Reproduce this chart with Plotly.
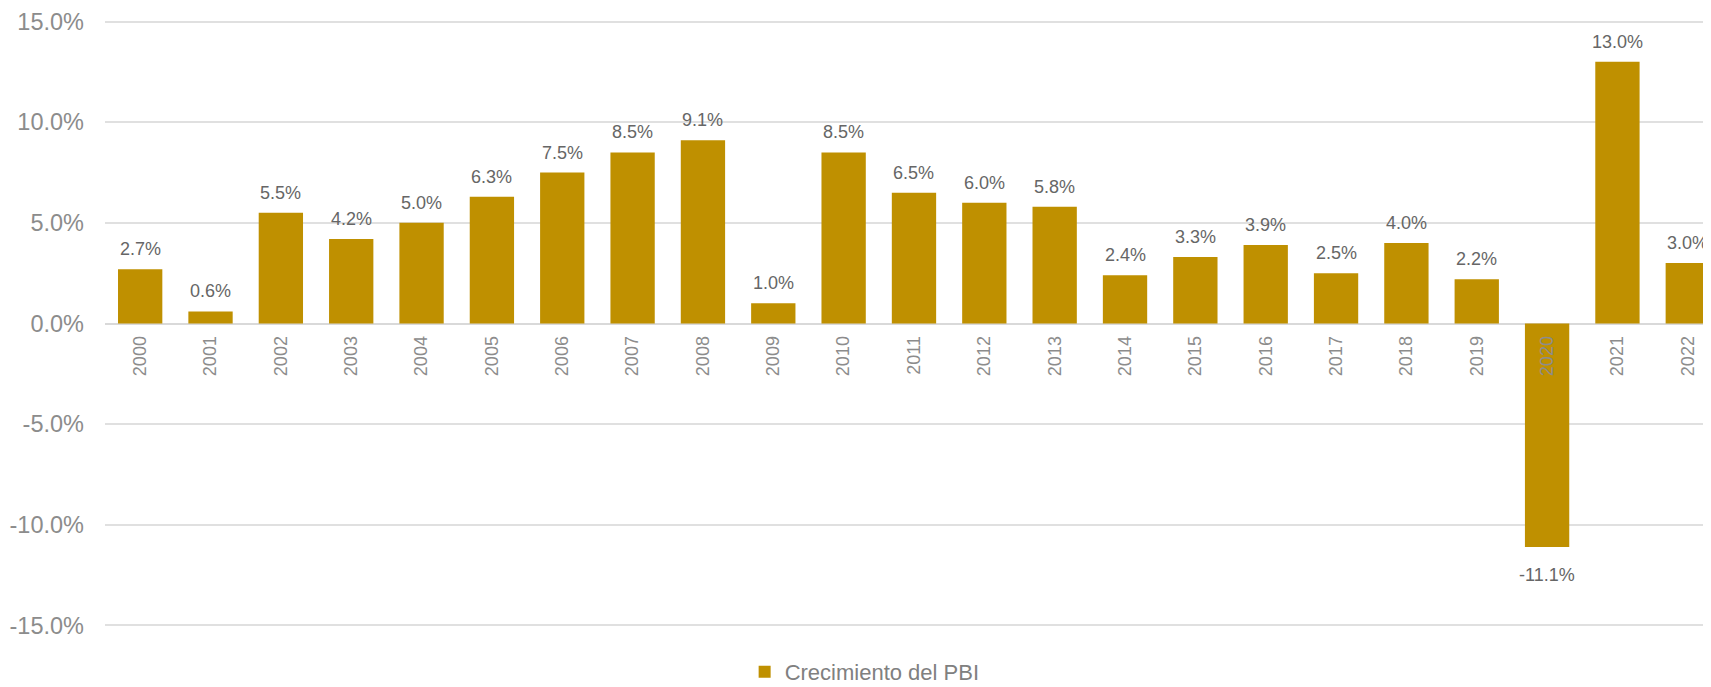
import plotly.graph_objects as go

years = ["2000","2001","2002","2003","2004","2005","2006","2007","2008","2009","2010",
         "2011","2012","2013","2014","2015","2016","2017","2018","2019","2020","2021","2022"]
growth = [2.7,0.6,5.5,4.2,5.0,6.3,7.5,8.5,9.1,1.0,8.5,6.5,6.0,5.8,2.4,3.3,3.9,2.5,4.0,2.2,-11.1,13.0,3.0]
y_ticks = [-15,-10,-5,0,5,10,15]

BAR = "#BF9000"
FONT = "Liberation Sans, Arial, sans-serif"

fig = go.Figure()
fig.add_trace(go.Bar(x=years, y=growth, name="Crecimiento del PBI",
                     marker=dict(color=BAR, line=dict(width=0)), width=0.63,
                     hoverinfo="x+y"))

for i, v in enumerate(growth):
    fig.add_annotation(x=i, y=v, xref="x", yref="y", text=f"{v:.1f}%", showarrow=False,
                       yanchor="bottom" if v >= 0 else "top",
                       yshift=8 if v >= 0 else -16,
                       font=dict(family=FONT, size=18, color="#666666"))

# page body has an 8px default margin, so the figure is 8px smaller and offset
fig.update_layout(
    width=1703, height=679,
    margin=dict(l=97, r=0, t=12, b=60, autoexpand=False),
    plot_bgcolor="white", paper_bgcolor="white",
    font=dict(family=FONT),
    showlegend=True,
    legend=dict(orientation="h", x=0.473, xanchor="center", y=-0.074, yanchor="middle",
                font=dict(family=FONT, size=22, color="#808080"),
                itemwidth=30),
    xaxis=dict(type="category", range=[-0.5, 22.33], anchor="free", position=0.5,
               tickangle=-90, showgrid=False, showline=False, zeroline=False,
               ticks="", ticklabelstandoff=8, automargin=False,
               tickfont=dict(family=FONT, size=18, color="#8c8c8c")),
    yaxis=dict(range=[-15.08, 15.08], tickvals=y_ticks,
               ticktext=[f"{t:.1f}%" for t in y_ticks],
               showgrid=True, gridcolor="#e0e0e0", gridwidth=1.5,
               zeroline=True, zerolinecolor="#d9d9d9", zerolinewidth=2,
               showline=False, ticks="", ticklabelstandoff=20, automargin=False,
               tickfont=dict(family=FONT, size=23.5, color="#8c8c8c")),
)

fig.write_html("out.html")
